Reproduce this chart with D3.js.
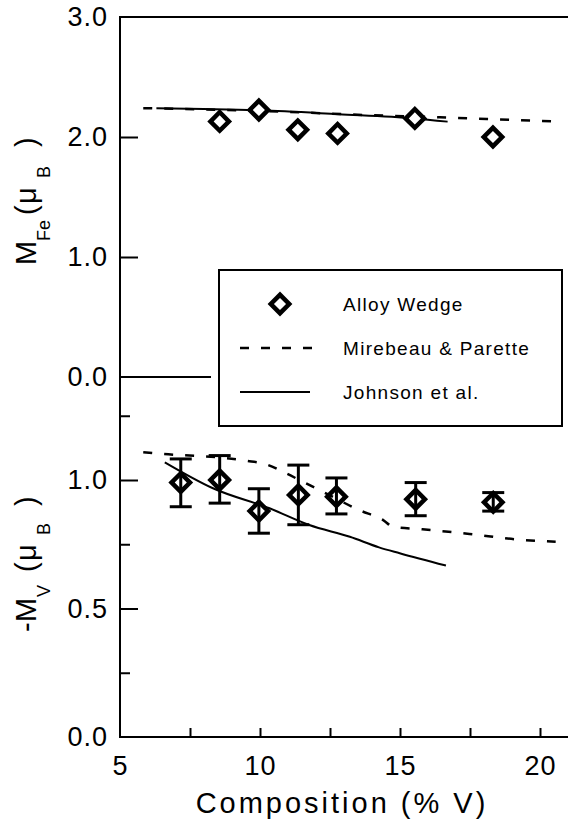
<!DOCTYPE html>
<html lang="en">
<head>
  <meta charset="utf-8">
  <title>Fe and V moments vs composition</title>
  <script src="https://d3js.org/d3.v7.min.js"></script>
  <style>
    body { margin: 0; background: #fff; }
    svg text { font-family: "Liberation Sans", Arial, Helvetica, sans-serif; fill: #000; }
    .tick line { stroke: #000; stroke-width: 2px; }
    .tick text { font-size: 27px; letter-spacing: 1px; }
  </style>
</head>
<body>
<script>
  // Fe moment (upper panel), alloy wedge
  var feComp = [8.56, 9.96, 11.35, 12.77, 15.53, 18.32];
  var feMoment = [2.13, 2.225, 2.06, 2.03, 2.155, 2.00];

  // V moment (lower panel), alloy wedge with error bars
  var vComp = [7.17, 8.56, 9.96, 11.37, 12.73, 15.56, 18.33];
  var vMoment = [0.99, 1.00, 0.879, 0.942, 0.935, 0.925, 0.913];
  var vErrTop = [1.082, 1.095, 0.966, 1.058, 1.008, 0.99, 0.951];
  var vErrBottom = [0.896, 0.91, 0.793, 0.826, 0.868, 0.861, 0.879];

  // Mirebeau & Parette (dashed)
  var mpFeComp = [5.83, 8.0, 10.95, 13.8, 16.43, 18.1, 20.48];
  var mpFe = [2.24, 2.23, 2.21, 2.183, 2.164, 2.15, 2.13];
  var mpVComp = [5.83, 6.54, 7.49, 8.56, 9.51, 10.22, 10.93, 11.64, 12.23, 13.54, 14.4, 14.75, 15.8, 17.48, 19.14, 20.56];
  var mpV = [1.108, 1.101, 1.095, 1.088, 1.075, 1.061, 1.026, 0.987, 0.955, 0.883, 0.844, 0.818, 0.808, 0.79, 0.769, 0.76];

  // Johnson et al. (solid)
  var jFeComp = [6.3, 8.0, 10.0, 12.8, 15.5, 16.7];
  var jFe = [2.24, 2.233, 2.222, 2.19, 2.155, 2.128];
  var jVComp = [6.6, 8.32, 10.34, 11.76, 13.21, 14.25, 14.99, 16.64];
  var jV = [1.069, 0.968, 0.89, 0.825, 0.779, 0.738, 0.715, 0.667];

  var legendLabels = ["Alloy Wedge", "Mirebeau & Parette", "Johnson et al."];
  var xTicks = [5, 7.5, 10, 12.5, 15, 17.5, 20];
  var xTickLabels = [5, 10, 15, 20];

  var width = 568, height = 823;

  var svg = d3.select("body").append("svg")
    .attr("width", width)
    .attr("height", height);

  var x = d3.scaleLinear().domain([5, 21]).range([120, 568]);
  var yFe = d3.scaleLinear().domain([0, 3]).range([377, 17]);
  var yV = d3.scaleLinear().domain([0, 1]).range([737, 480]);

  // frame: left, top, bottom
  svg.append("path")
    .attr("d", "M568," + yFe(3) + "H" + x(5) + "V" + yV(0) + "H568")
    .attr("fill", "none").attr("stroke", "#000").attr("stroke-width", 2);

  // zero line of upper panel
  svg.append("line")
    .attr("x1", x(5)).attr("x2", x(8.25))
    .attr("y1", yFe(0)).attr("y2", yFe(0))
    .attr("stroke", "#000").attr("stroke-width", 2);

  // y ticks, upper
  svg.append("g").attr("transform", "translate(" + x(5) + ",0)")
    .call(d3.axisLeft(yFe).tickValues([1, 2]).tickSize(-18).tickFormat(""));
  svg.append("g").attr("transform", "translate(" + x(5) + ",0)")
    .call(d3.axisLeft(yFe).tickValues([0, 1, 2, 3]).tickSize(0).tickPadding(12).tickFormat(d3.format(".1f")));

  // y ticks, lower
  svg.append("g").attr("transform", "translate(" + x(5) + ",0)")
    .call(d3.axisLeft(yV).tickValues([0.5, 1]).tickSize(-18).tickFormat(""));
  svg.append("g").attr("transform", "translate(" + x(5) + ",0)")
    .call(d3.axisLeft(yV).tickValues([0.25, 0.75, 1.25]).tickSize(-10).tickFormat(""));
  svg.append("g").attr("transform", "translate(" + x(5) + ",0)")
    .call(d3.axisLeft(yV).tickValues([0, 0.5, 1]).tickSize(0).tickPadding(12).tickFormat(d3.format(".1f")));

  // x ticks
  svg.append("g").attr("transform", "translate(0," + yV(0) + ")")
    .call(d3.axisBottom(x).tickValues(xTicks.slice(1)).tickSize(-9).tickFormat(""));
  svg.append("g").attr("transform", "translate(0," + yV(0) + ")")
    .call(d3.axisBottom(x).tickValues(xTickLabels).tickSize(0).tickPadding(19).tickFormat(d3.format("d")));

  svg.selectAll(".domain").remove();

  // curves
  function drawCurve(xs, ys, yScale, dashed) {
    var pts = xs.map(function(d, i) { return [d, ys[i]]; });
    var line = d3.line()
      .x(function(d) { return x(d[0]); })
      .y(function(d) { return yScale(d[1]); })
      .curve(d3.curveMonotoneX);
    svg.append("path")
      .datum(pts)
      .attr("d", line)
      .attr("fill", "none")
      .attr("stroke", "#000")
      .attr("stroke-width", dashed ? 2.5 : 2)
      .attr("stroke-dasharray", dashed ? "9,12" : null);
  }
  drawCurve(mpFeComp, mpFe, yFe, true);
  drawCurve(jFeComp, jFe, yFe, false);
  drawCurve(mpVComp, mpV, yV, true);
  drawCurve(jVComp, jV, yV, false);

  var diamond = d3.symbol().type(d3.symbolSquare).size(170);

  // error bars
  var eb = svg.append("g").attr("stroke", "#000").attr("stroke-width", 3);
  vComp.forEach(function(c, i) {
    var cx = x(c);
    eb.append("line").attr("x1", cx).attr("x2", cx).attr("y1", yV(vErrTop[i])).attr("y2", yV(vErrBottom[i]));
    eb.append("line").attr("x1", cx - 11).attr("x2", cx + 11).attr("y1", yV(vErrTop[i])).attr("y2", yV(vErrTop[i]));
    eb.append("line").attr("x1", cx - 11).attr("x2", cx + 11).attr("y1", yV(vErrBottom[i])).attr("y2", yV(vErrBottom[i]));
  });

  // markers
  function drawDiamonds(xs, ys, yScale, fill) {
    svg.append("g").selectAll("path")
      .data(xs)
      .enter().append("path")
      .attr("d", diamond)
      .attr("transform", function(d, i) { return "translate(" + x(d) + "," + yScale(ys[i]) + ") rotate(45)"; })
      .attr("fill", fill)
      .attr("stroke", "#000")
      .attr("stroke-width", 4.5);
  }
  drawDiamonds(feComp, feMoment, yFe, "#fff");
  drawDiamonds(vComp, vMoment, yV, "none");

  // legend
  var lg = svg.append("g");
  lg.append("rect")
    .attr("x", 219).attr("y", 270).attr("width", 343).attr("height", 156)
    .attr("fill", "#fff").attr("stroke", "#000").attr("stroke-width", 2);
  lg.append("path")
    .attr("d", diamond)
    .attr("transform", "translate(280,304) rotate(45)")
    .attr("fill", "#fff").attr("stroke", "#000").attr("stroke-width", 4.5);
  lg.append("line").attr("x1", 240).attr("x2", 312).attr("y1", 348).attr("y2", 348)
    .attr("stroke", "#000").attr("stroke-width", 2.5).attr("stroke-dasharray", "9,12");
  lg.append("line").attr("x1", 240).attr("x2", 310).attr("y1", 392).attr("y2", 392)
    .attr("stroke", "#000").attr("stroke-width", 2);
  lg.selectAll("text.lab")
    .data(legendLabels)
    .enter().append("text")
    .attr("class", "lab")
    .attr("x", 343)
    .attr("y", function(d, i) { return 311 + i * 44; })
    .style("font-size", "19px")
    .style("letter-spacing", "1.3px")
    .text(function(d) { return d; });

  // axis titles
  svg.append("text")
    .attr("x", 342).attr("y", 813)
    .attr("text-anchor", "middle")
    .style("font-size", "29px")
    .style("letter-spacing", "3px")
    .text("Composition (% V)");

  // rotated y titles: pieces placed along the rotated baseline
  function yTitle(bottom, parts) {
    var t = svg.append("text")
      .attr("transform", "translate(36," + bottom + ") rotate(-90)")
      .style("font-size", "29px");
    parts.forEach(function(p) {
      t.append("tspan")
        .attr("x", p[1])
        .attr("y", p[2] ? 14 : 0)
        .style("font-size", p[2] ? "18px" : null)
        .text(p[0]);
    });
  }
  yTitle(265, [["M", 0], ["Fe", 24, true], ["(", 50], ["μ", 61], ["B", 87, true], [")", 118]]);
  yTitle(632, [["-", 0], ["M", 10], ["V", 35, true], ["(", 60], ["μ", 71], ["B", 97, true], [")", 126]]);
</script>
</body>
</html>
